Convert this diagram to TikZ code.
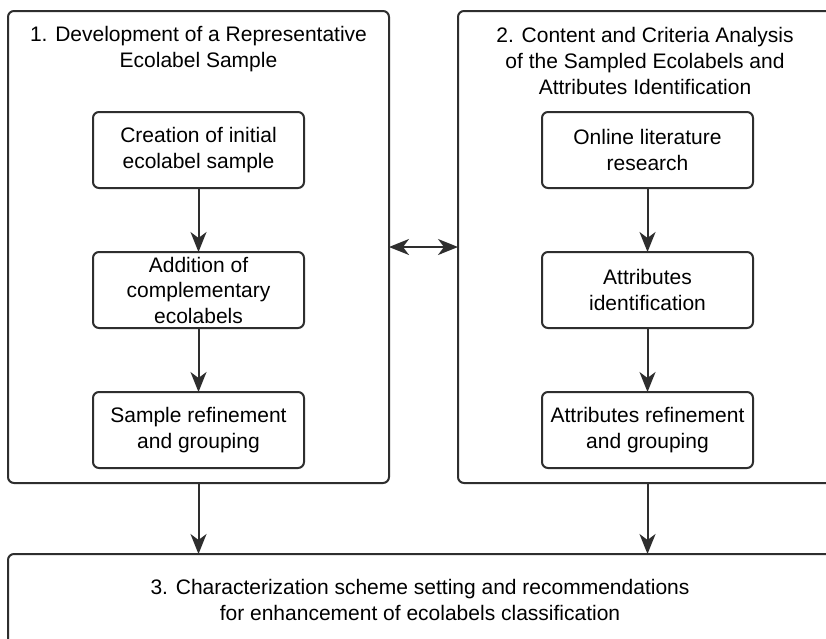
\documentclass[tikz,border=0pt]{standalone}
\usepackage{fontspec}
\setmainfont{Liberation Sans}
\usetikzlibrary{arrows.meta,calc}
\definecolor{edge}{HTML}{2E2E2E}
\tikzset{
  bigbox/.style={draw=edge, line width=2pt, rounded corners=6pt, inner sep=0pt, outer sep=0pt},
  stepbox/.style={draw=edge, line width=2pt, rounded corners=6pt, minimum width=211pt, minimum height=76pt, inner sep=0pt, outer sep=0pt, align=center, font=\fontsize{21}{25.5}\selectfont},
  title/.style={align=center, inner sep=0pt, font=\fontsize{21}{26}\selectfont},
  tip/.style={Stealth[length=20pt,width=16pt,inset=6pt]},
  flow/.style={draw=edge, line width=2pt, -{Stealth[length=20pt,width=16pt,inset=6pt]}},
  flowboth/.style={draw=edge, line width=2pt, {Stealth[length=20pt,width=16pt,inset=6pt]}-{Stealth[length=20pt,width=16pt,inset=6pt]}}
}
\begin{document}
\begin{tikzpicture}[x=1pt,y=-1pt]
\clip (0,0) rectangle (826,638);
\fill[white] (0,0) rectangle (826,638);
% big boxes
\node[bigbox, minimum width=381pt, minimum height=472pt] (L) at (198.5,247) {};
\node[bigbox, minimum width=379pt, minimum height=472pt] (R) at (647.5,247) {};
\node[bigbox, minimum width=824pt, minimum height=92pt] (B) at (420,600) {};
% titles
\node[title] (Lt) at (198.5,49) {1. Development of a Representative\\Ecolabel Sample};
\node[title] (Rt) at (645,61) {2. Content and Criteria Analysis\\of the Sampled Ecolabels and\\Attributes Identification};
\node[title] (Bt) at (420,600) {3. Characterization scheme setting and recommendations\\for enhancement of ecolabels classification};
% left steps
\node[stepbox] (L1) at (198.5,150) {Creation of initial\\ecolabel sample};
\node[stepbox] (L2) at (198.5,290) {Addition of\\complementary\\ecolabels};
\node[stepbox] (L3) at (198.5,430) {Sample refinement\\and grouping};
% right steps
\node[stepbox] (R1) at (647.5,150) {Online literature\\research};
\node[stepbox] (R2) at (647.5,290) {Attributes\\identification};
\node[stepbox] (R3) at (647.5,430) {Attributes refinement\\and grouping};
% connectors
\draw[flow] (L1) -- (L2);
\draw[flow] (L2) -- (L3);
\draw[flow] (R1) -- (R2);
\draw[flow] (R2) -- (R3);
\draw[flowboth] (L.east) -- (R.west);
\draw[flow] (L.south) -- (L.south |- B.north);
\draw[flow] (R.south) -- (R.south |- B.north);
\end{tikzpicture}
\end{document}
